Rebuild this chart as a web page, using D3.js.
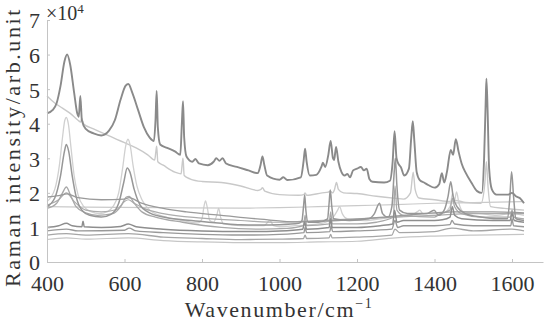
<!DOCTYPE html>
<html>
<head>
<meta charset="utf-8">
<script src="https://cdn.jsdelivr.net/npm/d3@7/dist/d3.min.js"></script>
<style>
  body { margin: 0; background: #fff; }
  svg text { font-family: "Liberation Serif", "DejaVu Serif", serif; fill: #333; }
</style>
</head>
<body>
<svg id="chart"></svg>
<script>
// tick labels
const xTicks = [400, 600, 800, 1000, 1200, 1400, 1600];
const yTicks = [0, 1, 2, 3, 4, 5, 6, 7];

// spectra, [wavenumber, intensity x10^4]
const mainTrace = [[400,4.3],[415,4.4],[425,4.6],[435,5.1],[445,5.8],[452,6.0],[460,5.7],[470,4.9],[478,4.3],[482,4.2],[486,4.8],[490,4.1],[500,3.85],[520,3.72],[540,3.66],[560,3.8],[575,4.1],[590,4.7],[603,5.1],[610,5.15],[620,4.9],[635,4.4],[650,3.9],[665,3.6],[676,3.5],[680,4.1],[683,4.95],[686,3.9],[692,3.4],[710,3.3],[730,3.2],[744,3.1],[748,4.0],[751,4.65],[754,3.6],[760,3.05],[775,2.9],[783,2.98],[792,2.85],[815,2.8],[830,2.9],[837,3.0],[845,2.93],[853,3.0],[862,2.85],[890,2.75],[920,2.65],[944,2.57],[951,2.8],[956,3.05],[961,2.8],[968,2.5],[1000,2.38],[1010,2.45],[1020,2.37],[1055,2.45],[1062,2.9],[1066,3.28],[1070,2.9],[1078,2.5],[1095,2.52],[1108,2.75],[1112,2.87],[1118,2.75],[1126,3.1],[1132,3.5],[1138,3.0],[1141,2.95],[1146,3.33],[1152,2.9],[1160,2.6],[1168,2.5],[1175,2.55],[1182,2.45],[1190,2.65],[1200,2.7],[1210,2.75],[1218,2.65],[1225,2.7],[1232,2.4],[1240,2.32],[1270,2.3],[1285,2.35],[1292,2.9],[1297,3.78],[1302,3.0],[1308,2.82],[1313,2.75],[1322,2.5],[1334,2.7],[1340,3.6],[1344,4.07],[1348,3.5],[1354,2.6],[1362,2.37],[1373,2.3],[1385,2.22],[1400,2.15],[1412,2.25],[1419,2.57],[1425,2.3],[1432,2.6],[1442,3.24],[1448,3.1],[1455,3.55],[1462,3.2],[1470,2.85],[1481,2.57],[1495,2.3],[1510,2.05],[1522,2.0],[1528,3.0],[1532,4.6],[1534,5.3],[1537,4.4],[1541,2.7],[1548,2.1],[1560,1.95],[1590,1.95],[1600,2.0],[1610,1.9],[1620,1.85],[1631,1.7]];

const backgroundTrace = [[400,4.8],[420,4.6],[440,4.45],[460,4.3],[480,4.1],[487,4.05],[490,4.15],[494,4.0],[520,3.85],[550,3.7],[580,3.55],[600,3.45],[630,3.3],[660,3.1],[678,2.95],[681,3.2],[683,3.35],[686,2.9],[700,2.8],[730,2.6],[746,2.55],[749,2.85],[751,3.0],[754,2.5],[770,2.4],[800,2.33],[850,2.3],[900,2.2],[944,2.07],[952,2.1],[956,2.15],[962,2.05],[1000,1.95],[1050,1.93],[1063,1.95],[1066,2.0],[1070,1.93],[1110,2.0],[1126,2.02],[1131,2.05],[1137,2.0],[1142,2.1],[1147,2.3],[1152,2.1],[1165,2.0],[1200,1.98],[1250,1.9],[1300,1.84],[1320,1.82],[1338,2.0],[1345,2.6],[1350,2.1],[1360,1.85],[1400,1.8],[1440,1.75],[1455,1.78],[1480,1.72],[1520,1.7],[1530,2.3],[1534,2.9],[1538,2.2],[1545,1.6],[1580,1.55],[1631,1.5]];

const lightPeakTrace = [[400,1.75],[420,2.1],[432,2.8],[440,3.6],[446,4.1],[450,4.18],[455,4.0],[462,3.3],[470,2.5],[480,1.95],[495,1.6],[515,1.45],[535,1.4],[555,1.45],[570,1.6],[585,2.0],[595,2.7],[603,3.35],[609,3.55],[615,3.35],[622,2.8],[632,2.2],[645,1.8],[665,1.5],[700,1.32],[750,1.2],[790,1.13],[800,1.25],[805,1.6],[809,1.77],[814,1.55],[820,1.2],[830,1.15],[838,1.35],[843,1.55],[848,1.3],[856,1.1],[900,1.05],[960,1.05],[975,1.2],[985,1.05],[1000,1.02],[1040,1.05],[1100,1.1],[1130,1.2],[1142,1.35],[1150,1.5],[1155,1.6],[1162,1.4],[1175,1.25],[1220,1.2],[1260,1.25],[1300,1.3],[1340,1.35],[1355,1.45],[1362,1.5],[1370,1.4],[1420,1.4],[1440,1.6],[1447,2.0],[1451,1.75],[1457,2.03],[1463,1.7],[1475,1.45],[1520,1.4],[1560,1.35],[1600,1.4],[1631,1.35]];

const darkPeakTrace = [[400,1.6],[420,1.85],[435,2.5],[445,3.2],[450,3.4],[456,3.2],[465,2.5],[475,1.9],[490,1.5],[510,1.35],[540,1.3],[565,1.38],[585,1.7],[598,2.3],[607,2.72],[614,2.6],[625,2.1],[640,1.65],[660,1.45],[700,1.3],[750,1.22],[800,1.17],[850,1.12],[900,1.08],[950,1.07],[1000,1.08],[1050,1.12],[1058,1.2],[1062,1.6],[1065,1.94],[1068,1.5],[1074,1.15],[1100,1.15],[1124,1.25],[1128,1.7],[1131,2.08],[1135,1.6],[1140,1.25],[1180,1.2],[1230,1.25],[1245,1.4],[1258,1.7],[1266,1.4],[1280,1.3],[1290,1.6],[1296,2.6],[1299,3.0],[1303,2.2],[1310,1.5],[1330,1.4],[1380,1.4],[1399,1.5],[1410,1.35],[1425,1.5],[1435,1.9],[1442,2.32],[1448,1.9],[1458,1.6],[1480,1.4],[1520,1.3],[1560,1.25],[1588,1.25],[1594,1.8],[1599,2.61],[1604,1.9],[1610,1.25],[1631,1.2]];

const midPeakTrace = [[400,1.55],[425,1.7],[440,2.0],[450,2.17],[460,1.95],[475,1.6],[500,1.42],[530,1.35],[570,1.4],[590,1.6],[605,1.88],[612,1.9],[625,1.7],[645,1.45],[680,1.3],[750,1.15],[850,1.0],[950,0.95],[1020,0.97],[1062,1.05],[1066,1.35],[1070,1.05],[1128,1.1],[1132,1.45],[1136,1.1],[1200,1.1],[1250,1.15],[1294,1.3],[1298,2.2],[1303,1.5],[1320,1.35],[1400,1.3],[1415,1.4],[1440,1.5],[1446,1.85],[1452,1.6],[1470,1.4],[1520,1.3],[1596,1.3],[1600,1.5],[1605,1.3],[1631,1.25]];

const smallPeakTrace = [[400,1.65],[430,1.8],[450,2.0],[470,1.75],[500,1.5],[540,1.45],[580,1.52],[600,1.75],[610,1.8],[625,1.7],[650,1.55],[700,1.4],[800,1.27],[900,1.2],[1000,1.15],[1100,1.2],[1200,1.25],[1300,1.3],[1400,1.35],[1500,1.4],[1631,1.4]];

const slopeTrace = [[400,1.88],[430,1.92],[452,1.97],[480,1.86],[540,1.8],[600,1.82],[612,1.86],[640,1.72],[700,1.55],[760,1.45],[850,1.35],[950,1.24],[1050,1.16],[1150,1.2],[1250,1.28],[1350,1.38],[1450,1.45],[1550,1.45],[1631,1.42]];

const flatTrace = [[400,1.6],[500,1.59],[700,1.57],[900,1.56],[1000,1.57],[1100,1.6],[1200,1.63],[1300,1.66],[1400,1.7],[1500,1.72],[1631,1.75]];

const lowTrace1 = [[400,1.0],[430,1.05],[450,1.12],[465,1.05],[490,1.02],[493,1.18],[496,1.02],[540,1.0],[590,1.03],[610,1.1],[630,1.02],[700,0.95],[800,0.9],[900,0.88],[1000,0.9],[1060,0.95],[1065,1.15],[1070,0.95],[1128,1.0],[1132,1.25],[1136,1.0],[1200,1.0],[1260,1.05],[1292,1.1],[1297,1.5],[1303,1.15],[1320,1.2],[1400,1.2],[1420,1.22],[1440,1.3],[1446,1.6],[1452,1.35],[1470,1.25],[1550,1.2],[1595,1.2],[1600,1.4],[1606,1.2],[1631,1.15]];

const lowTrace2 = [[400,0.9],[450,0.95],[480,0.9],[600,0.92],[612,0.98],[630,0.9],[700,0.85],[800,0.8],[900,0.78],[1000,0.8],[1063,0.85],[1066,1.0],[1070,0.85],[1130,0.88],[1133,1.05],[1137,0.88],[1200,0.9],[1290,0.95],[1298,1.2],[1305,1.0],[1320,1.05],[1400,1.05],[1440,1.08],[1445,1.2],[1452,1.1],[1500,1.05],[1597,1.05],[1600,1.25],[1604,1.05],[1631,1.02]];

const lowTrace3 = [[400,0.78],[450,0.82],[500,0.78],[610,0.82],[700,0.72],[800,0.68],[900,0.65],[1000,0.66],[1062,0.68],[1066,0.78],[1070,0.68],[1128,0.7],[1132,0.8],[1136,0.7],[1200,0.72],[1290,0.78],[1298,0.95],[1310,0.85],[1400,0.88],[1445,0.98],[1500,0.9],[1600,0.95],[1631,0.9]];

const lowTrace4 = [[400,0.65],[450,0.7],[500,0.66],[610,0.7],[700,0.62],[800,0.58],[900,0.56],[1000,0.56],[1100,0.58],[1200,0.6],[1300,0.7],[1400,0.75],[1500,0.78],[1631,0.8]];

const width = 550, height = 326;
const marginLeft = 47, marginRight = 7, marginTop = 20, marginBottom = 64;

const svg = d3.select("#chart").attr("width", width).attr("height", height);

const x = d3.scaleLinear().domain([400, 1680]).range([marginLeft, width - marginRight]);
const y = d3.scaleLinear().domain([0, 7]).range([height - marginBottom, marginTop]);

const line = d3.line()
  .x(d => x(d[0]))
  .y(d => y(d[1]))
  .curve(d3.curveMonotoneX);

// lighter ones first, darkest on top
const traces = [
  { data: backgroundTrace, color: "#c9c9c9", w: 1.4 },
  { data: lightPeakTrace,  color: "#d0d0d0", w: 1.3 },
  { data: flatTrace,       color: "#cacaca", w: 1.2 },
  { data: lowTrace4,       color: "#c6c6c6", w: 1.2 },
  { data: smallPeakTrace,  color: "#acacac", w: 1.2 },
  { data: midPeakTrace,    color: "#a8a8a8", w: 1.3 },
  { data: lowTrace3,       color: "#a6a6a6", w: 1.3 },
  { data: slopeTrace,      color: "#9a9a9a", w: 1.3 },
  { data: lowTrace2,       color: "#999999", w: 1.4 },
  { data: darkPeakTrace,   color: "#979797", w: 1.5 },
  { data: lowTrace1,       color: "#8e8e8e", w: 1.5 },
  { data: mainTrace,       color: "#8a8a8a", w: 1.9 }
];

svg.append("g")
  .attr("fill", "none")
  .attr("stroke-linejoin", "round")
  .selectAll("path")
  .data(traces)
  .join("path")
    .attr("d", d => line(d.data))
    .attr("stroke", d => d.color)
    .attr("stroke-width", d => d.w);

// axes
const gx = svg.append("g")
  .attr("transform", `translate(0,${height - marginBottom})`)
  .call(d3.axisBottom(x).tickValues(xTicks).tickFormat(d3.format("d"))
    .tickSizeInner(-3).tickSizeOuter(0).tickPadding(13));

const gy = svg.append("g")
  .attr("transform", `translate(${marginLeft},0)`)
  .call(d3.axisLeft(y).tickValues(yTicks).tickFormat(d3.format("d"))
    .tickSizeInner(-3).tickSizeOuter(0).tickPadding(7));

[gx, gy].forEach(g => {
  g.select(".domain").attr("stroke", "#c4c4c4");
  g.selectAll(".tick line").attr("stroke", "#c4c4c4");
  g.selectAll(".tick text")
    .attr("font-size", 22)
    .attr("fill", "#3a3a3a");
});
gy.selectAll(".tick text").attr("dy", "0.36em");

// axis titles
const xTitle = svg.append("text")
  .attr("x", 279)
  .attr("y", 317)
  .attr("text-anchor", "middle")
  .attr("font-size", 22)
  .attr("letter-spacing", 1.6);
xTitle.append("tspan").text("Wavenumber/cm");
xTitle.append("tspan").attr("font-size", 14).attr("dy", -9).text("−1");

svg.append("text")
  .attr("transform", "translate(20,147) rotate(-90)")
  .attr("text-anchor", "middle")
  .attr("font-size", 22)
  .attr("letter-spacing", 2.6)
  .text("Raman intensity/arb.unit");

const mult = svg.append("text")
  .attr("x", 46)
  .attr("y", 20)
  .attr("font-size", 20);
mult.append("tspan").text("×10");
mult.append("tspan").attr("font-size", 13).attr("dy", -7).text("4");
</script>
</body>
</html>
